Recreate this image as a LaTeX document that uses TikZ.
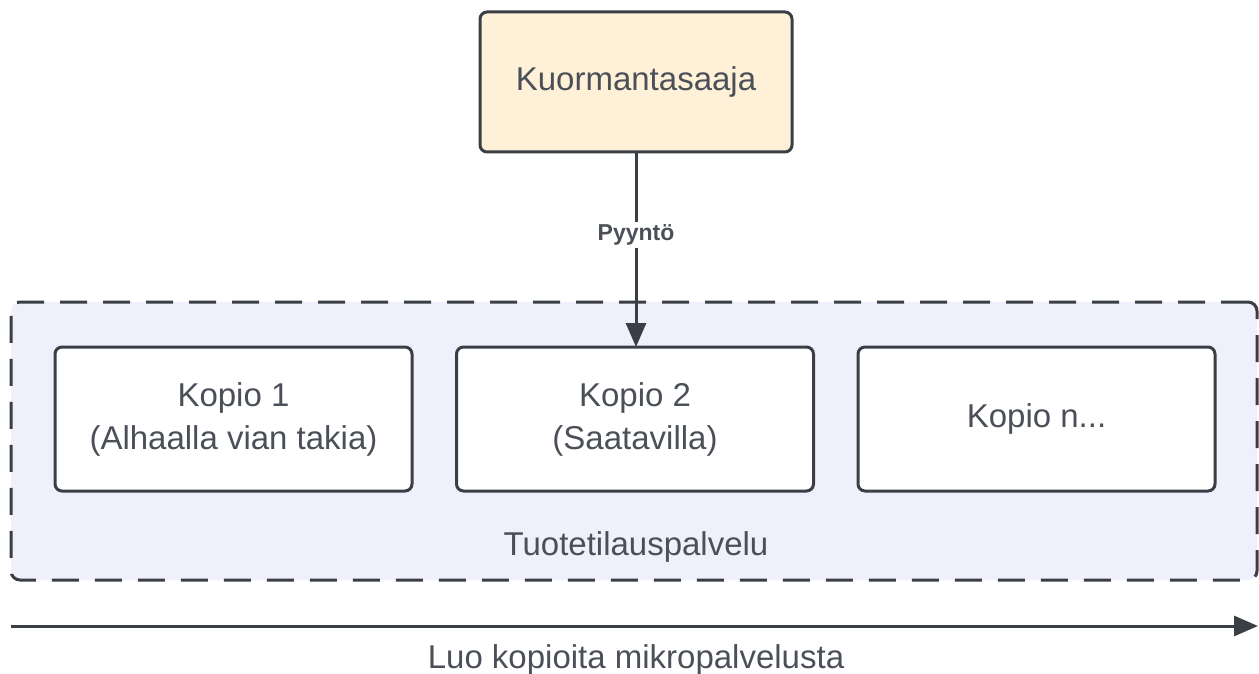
\documentclass[tikz,border=0pt]{standalone}
\usepackage{fontspec}
\setmainfont{Liberation Sans}
\usetikzlibrary{arrows.meta}
\definecolor{edge}{HTML}{3A3E45}
\definecolor{txt}{HTML}{4B5058}
\definecolor{cream}{HTML}{FFF1D8}
\definecolor{lav}{HTML}{F0F0FC}
\tikzset{
  box/.style={draw=edge, line width=3pt, rounded corners=7pt, fill=white,
    text=txt, align=center, font=\fontsize{33}{43}\selectfont,
    minimum width=357pt, minimum height=144pt, inner sep=0pt},
  group/.style={draw=edge, line width=3pt, rounded corners=9pt, fill=lav,
    dash pattern=on 27pt off 16pt, inner sep=0pt},
  conn/.style={draw=edge, line width=3pt,
    -{Triangle[length=24pt,width=20pt]}},
  plain/.style={text=txt, font=\fontsize{33}{43}\selectfont, inner sep=0pt}
}
\begin{document}
\begin{tikzpicture}[x=1pt,y=-1pt]
\useasboundingbox (0,0) rectangle (1259,674);

% service group holding the replicas
\node[group, minimum width=1246pt, minimum height=278pt] (svc) at (634,441) {};
\node[plain] (svclabel) at (636,547) {Tuotetilauspalvelu};

% load balancer
\node[box, fill=cream, minimum width=312pt, minimum height=140pt] (lb) at (636,82) {Kuormantasaaja};

% replicas
\node[box] (k1) at (233.5,419) {Kopio 1\\(Alhaalla vian takia)};
\node[box] (k2) at (635,419) {Kopio 2\\(Saatavilla)};
\node[box] (k3) at (1036.5,419) {Kopio n...};

% request
\draw[conn] (lb.south -| 636,0) -- (636,347) coordinate (req);
\node[fill=white, text=txt, font=\bfseries\fontsize{23}{26}\selectfont, inner sep=3pt] (pl) at (636,235) {Pyyntö};

% scaling axis
\coordinate (ax0) at (11,626);
\coordinate (ax1) at (1258,626);
\draw[conn] (ax0) -- (ax1);
\node[plain] (axlabel) at (636,660) {Luo kopioita mikropalvelusta};
\end{tikzpicture}
\end{document}
